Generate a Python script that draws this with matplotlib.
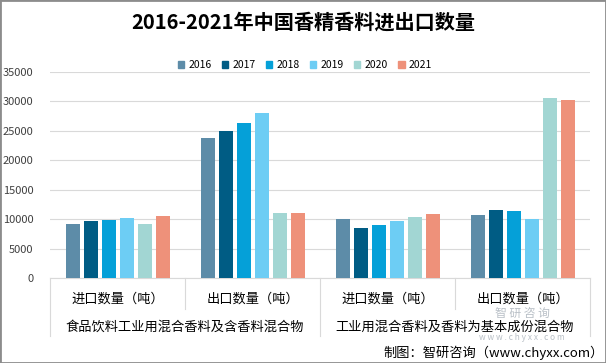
import matplotlib.pyplot as plt
import numpy as np
from matplotlib.patches import Rectangle, Patch

plt.rcParams['font.family'] = ['Noto Sans CJK SC', 'DejaVu Sans']

# data
years = ['2016', '2017', '2018', '2019', '2020', '2021']
sub_labels = ['进口数量（吨）', '出口数量（吨）', '进口数量（吨）', '出口数量（吨）']
group_labels = ['食品饮料工业用混合香料及含香料混合物', '工业用混合香料及香料为基本成份混合物']
v2016 = [9200, 23800, 10060, 10740]
v2017 = [9720, 24990, 8530, 11590]
v2018 = [9890, 26350, 9040, 11420]
v2019 = [10230, 28040, 9720, 10060]
v2020 = [9200, 11080, 10400, 30590]
v2021 = [10570, 11080, 10910, 30250]
colors = ['#5D8CA8', '#005C84', '#05A0D8', '#6DCDF4', '#A2D6D3', '#EE917A']

series = [v2016, v2017, v2018, v2019, v2020, v2021]

fig = plt.figure(figsize=(6.06, 3.63), dpi=100)
ax = fig.add_axes([50 / 606, 85 / 363, 540 / 606, 206 / 363])

x = np.arange(len(sub_labels))
step = 18 / 135
for j, vals in enumerate(series):
    ax.bar(x + (j - 2.5) * step, vals, width=14 / 135, color=colors[j], zorder=3)

ax.set_xlim(-0.5, 3.5)
ax.set_ylim(0, 35000)
ax.set_yticks(np.arange(0, 35001, 5000))
ax.tick_params(axis='y', length=0, labelsize=8, pad=12, colors='#404040')
ax.tick_params(axis='x', length=0, labelbottom=False)
ax.grid(axis='y', color='#D9D9D9', linewidth=0.8, zorder=0)
for s in ['top', 'right', 'left']:
    ax.spines[s].set_visible(False)
ax.spines['bottom'].set_color('#D9D9D9')

# two-level category axis
trans = ax.get_xaxis_transform()
for i, lab in enumerate(sub_labels):
    ax.text(i, -0.105, lab, transform=trans, ha='center', va='center', fontsize=9.5, color='#000000', zorder=5)
for g, lab in enumerate(group_labels):
    ax.text(g * 2 + 0.5, -0.24, lab, transform=trans, ha='center', va='center', fontsize=9.5, color='#000000', zorder=5)
for xs in [-0.5, 1.5, 3.5]:
    ax.plot([xs, xs], [0, -0.28], transform=trans, color='#D9D9D9', lw=0.8, clip_on=False)
for xs in [0.5, 2.5]:
    ax.plot([xs, xs], [0, -0.15], transform=trans, color='#D9D9D9', lw=0.8, clip_on=False)

# legend
handles = [Patch(color=c, label=y) for c, y in zip(colors, years)]
fig.legend(handles=handles, loc='center', bbox_to_anchor=(305 / 606, 1 - 65 / 363), ncol=6,
           frameon=False, fontsize=7.5, handlelength=0.6, handleheight=0.6, handletextpad=0.4,
           columnspacing=1.0)

fig.text(0.5, 1 - 22 / 363, '2016-2021年中国香精香料进出口数量', ha='center', va='center',
         fontsize=14.5, fontweight='bold', color='#000000')

# watermark (kept small so it sits between the label rows)
fig.text(522 / 606, 1 - 313 / 363, '智 研 咨 询', ha='center', va='center', fontsize=8.5, color='#B9C0C7',
         zorder=0)
fig.text(522 / 606, 1 - 338 / 363, 'w w w . c h y x x . c o m', ha='center', va='center', fontsize=6,
         color='#B9C0C7', zorder=0)

fig.text(604 / 606, 1 - 353 / 363, '制图：智研咨询（www.chyxx.com）', ha='right', va='center', fontsize=9.5, color='#000000')

fig.patches.append(Rectangle((0, 0), 1, 1, transform=fig.transFigure, fill=False, edgecolor='#8C8C8C', lw=2))

fig.savefig('out.png', dpi=100)
